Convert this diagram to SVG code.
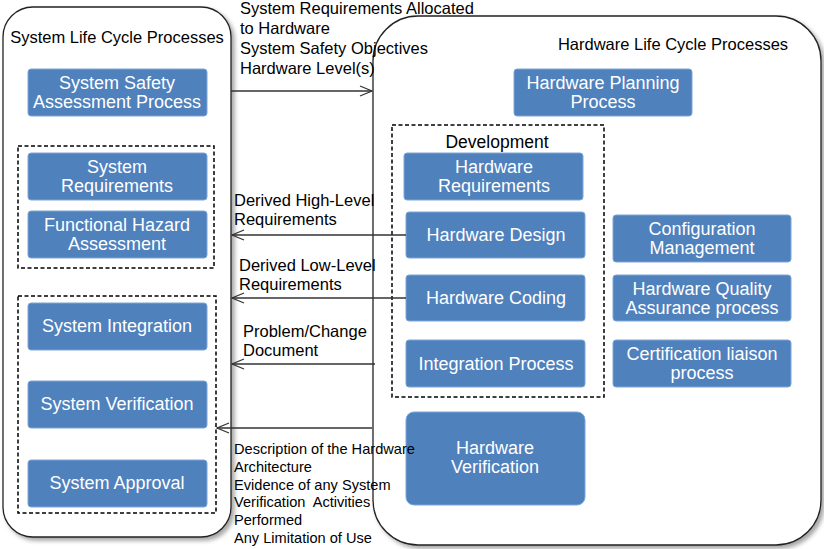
<svg xmlns="http://www.w3.org/2000/svg" width="824" height="549" viewBox="0 0 824 549">
<defs>
<style>
.cont{fill:#fff;stroke:#222;stroke-width:1.3}
.box{fill:#4F81BD;stroke:#7ea6d6;stroke-width:1}
.bt{font-family:"Liberation Sans",Arial,sans-serif;font-size:18px;fill:#fff;text-anchor:middle}
.t{font-family:"Liberation Sans",Arial,sans-serif;font-size:16.5px;fill:#000}
.s{font-family:"Liberation Sans",Arial,sans-serif;font-size:14.6px;fill:#000;white-space:pre}
.dash{fill:none;stroke:#000;stroke-width:1.5;stroke-dasharray:4,2.5}
.ln{stroke:#333;stroke-width:1.3;fill:none}
</style>
<filter id="sh" x="-10%" y="-10%" width="120%" height="120%">
<feDropShadow dx="3" dy="3" stdDeviation="2" flood-color="#000" flood-opacity="0.35"/>
</filter>
<marker id="ar" markerWidth="14" markerHeight="12" refX="13" refY="6" orient="auto" markerUnits="userSpaceOnUse">
<path d="M1,1 L13,6 L1,11" fill="none" stroke="#333" stroke-width="1.3"/>
</marker>
</defs>

<g id="system-life-cycle">
<rect class="cont" x="3" y="7" width="228" height="530" rx="30" filter="url(#sh)"/>
<text class="t" x="117" y="43" text-anchor="middle">System Life Cycle Processes</text>
</g>
<g id="hardware-life-cycle">
<rect class="cont" x="373" y="16" width="448" height="529" rx="45" filter="url(#sh)"/>
<text class="t" x="673" y="50" text-anchor="middle">Hardware Life Cycle Processes</text>
</g>

<g id="ssa"><rect class="box" x="28" y="69" width="179" height="47" rx="3"/>
<text class="bt" x="117" y="89">System Safety</text><text class="bt" x="117" y="108">Assessment Process</text></g>

<g id="group-sys-req"><rect class="dash" x="18" y="146" width="196" height="122"/></g>
<g id="sys-req"><rect class="box" x="28" y="153" width="179" height="47" rx="3"/>
<text class="bt" x="117" y="173">System</text><text class="bt" x="117" y="192">Requirements</text></g>
<g id="fha"><rect class="box" x="28" y="211" width="179" height="47" rx="3"/>
<text class="bt" x="117" y="231">Functional Hazard</text><text class="bt" x="117" y="250">Assessment</text></g>

<g id="group-sys-int"><rect class="dash" x="18" y="296" width="198" height="217"/></g>
<g id="sys-int"><rect class="box" x="28" y="303" width="179" height="47" rx="3"/>
<text class="bt" x="117" y="332">System Integration</text></g>
<g id="sys-ver"><rect class="box" x="28" y="381" width="179" height="47" rx="3"/>
<text class="bt" x="117" y="410">System Verification</text></g>
<g id="sys-app"><rect class="box" x="28" y="460" width="179" height="47" rx="3"/>
<text class="bt" x="117" y="489">System Approval</text></g>

<g id="hw-plan"><rect class="box" x="514" y="69" width="178" height="47" rx="3"/>
<text class="bt" x="603" y="89">Hardware Planning</text><text class="bt" x="603" y="108">Process</text></g>

<g id="development"><rect class="dash" x="392" y="125" width="212" height="272"/>
<text x="497" y="148" text-anchor="middle" style="font-family:'Liberation Sans',Arial,sans-serif;font-size:17.5px;fill:#000">Development</text></g>
<g id="hw-req"><rect class="box" x="404" y="153" width="179" height="47" rx="3"/>
<text class="bt" x="494" y="173">Hardware</text><text class="bt" x="494" y="192">Requirements</text></g>
<g id="hw-design"><rect class="box" x="406" y="212" width="179" height="46" rx="3"/>
<text class="bt" x="496" y="241">Hardware Design</text></g>
<g id="hw-coding"><rect class="box" x="406" y="275" width="179" height="46" rx="3"/>
<text class="bt" x="496" y="304">Hardware Coding</text></g>
<g id="integration"><rect class="box" x="406" y="340" width="179" height="47" rx="3"/>
<text class="bt" x="496" y="370">Integration Process</text></g>

<g id="config"><rect class="box" x="613" y="215" width="178" height="47" rx="3"/>
<text class="bt" x="702" y="235">Configuration</text><text class="bt" x="702" y="254">Management</text></g>
<g id="hwqa"><rect class="box" x="613" y="275" width="178" height="46" rx="3"/>
<text class="bt" x="702" y="295">Hardware Quality</text><text class="bt" x="702" y="314">Assurance process</text></g>
<g id="cert"><rect class="box" x="613" y="340" width="178" height="47" rx="3"/>
<text class="bt" x="702" y="360">Certification liaison</text><text class="bt" x="702" y="379">process</text></g>

<g id="hw-ver"><rect class="box" x="406" y="412" width="179" height="93" rx="8"/>
<text class="bt" x="495" y="454">Hardware</text><text class="bt" x="495" y="473">Verification</text></g>

<g id="connectors">
<line class="ln" x1="231" y1="91" x2="372" y2="91" marker-end="url(#ar)"/>
<line class="ln" x1="406" y1="235" x2="232" y2="235" marker-end="url(#ar)"/>
<line class="ln" x1="406" y1="298" x2="232" y2="298" marker-end="url(#ar)"/>
<line class="ln" x1="375" y1="364" x2="232" y2="364" marker-end="url(#ar)"/>
<line class="ln" x1="372" y1="428" x2="217" y2="428" marker-end="url(#ar)"/>
</g>

<g id="labels">
<text class="t" x="240" y="14">System Requirements Allocated</text>
<text class="t" x="240" y="34">to Hardware</text>
<text class="t" x="240" y="54">System Safety Objectives</text>
<text class="t" x="240" y="74">Hardware Level(s)</text>
<text class="t" x="234" y="206">Derived High-Level</text>
<text class="t" x="234" y="225">Requirements</text>
<text class="t" x="239" y="271">Derived Low-Level</text>
<text class="t" x="239" y="290">Requirements</text>
<text class="t" x="243" y="337">Problem/Change</text>
<text class="t" x="243" y="356">Document</text>
<text class="s" x="234" y="454">Description of the Hardware</text>
<text class="s" x="234" y="472">Architecture</text>
<text class="s" x="234" y="490">Evidence of any System</text>
<text class="s" x="234" y="507" xml:space="preserve">Verification  Activities</text>
<text class="s" x="234" y="525">Performed</text>
<text class="s" x="234" y="543">Any Limitation of Use</text>
</g>
</svg>
